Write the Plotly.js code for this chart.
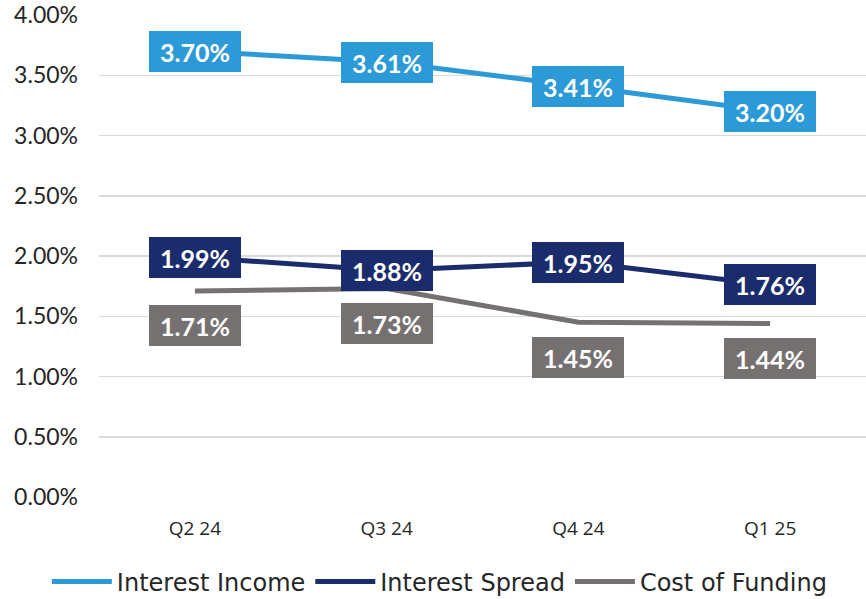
<!DOCTYPE html>
<html>
<head>
<meta charset="utf-8">
<script src="https://cdn.plot.ly/plotly-3.0.1.min.js"></script>
<style>
  html, body { margin: 0; padding: 0; background: #fff; }
  #chart { width: 866px; height: 599px; }
</style>
</head>
<body>
<div id="chart"></div>
<script>
// quarters and rates (in %)
const quarters = ["Q2 24", "Q3 24", "Q4 24", "Q1 25"];
const interestIncome = [3.70, 3.61, 3.41, 3.20];
const interestSpread = [1.99, 1.88, 1.95, 1.76];
const costOfFunding = [1.71, 1.73, 1.45, 1.44];

const FONT = "Lato, 'DejaVu Sans', sans-serif";

const series = [
  { name: "Interest Income", y: interestIncome, color: "#2B9AD6", shift: 0 },
  { name: "Interest Spread", y: interestSpread, color: "#1B2C6C", shift: 0 },
  { name: "Cost of Funding", y: costOfFunding, color: "#767171", shift: -35 },
];

const traces = series.map((s) => ({
  x: quarters,
  y: s.y,
  name: s.name,
  type: "scatter",
  mode: "lines",
  line: { color: s.color, width: 5 },
  hoverinfo: "skip",
}));

// value boxes
const annotations = [];
series.forEach((s) => {
  s.y.forEach((v, i) => {
    annotations.push({
      x: quarters[i],
      y: v,
      xref: "x",
      yref: "y",
      text: "<b>" + v.toFixed(2) + "%</b>",
      showarrow: false,
      yshift: s.shift,
      bgcolor: s.color,
      borderwidth: 0,
      borderpad: 4,
      width: 84,
      height: 33,
      font: { family: FONT, size: 25, color: "#ffffff" },
    });
  });
});

const layout = {
  width: 866,
  height: 599,
  margin: { l: 99, r: 0, t: 15, b: 102, autoexpand: false },
  paper_bgcolor: "#ffffff",
  plot_bgcolor: "#ffffff",
  showlegend: true,
  legend: {
    orientation: "h",
    x: -0.068,
    xanchor: "left",
    y: -0.176,
    yanchor: "middle",
    font: { family: "'DejaVu Sans', sans-serif", size: 24, color: "#262626" },
    itemwidth: 60,
    traceorder: "normal",
  },
  xaxis: {
    type: "category",
    range: [-0.5, 3.5],
    showgrid: false,
    zeroline: false,
    showline: false,
    ticks: "",
    tickfont: { family: "'Open Sans', sans-serif", size: 19, color: "#262626" },
    ticklabelstandoff: 18,
  },
  yaxis: {
    range: [0, 4],
    dtick: 0.5,
    tickformat: ".2f",
    ticksuffix: "%",
    showgrid: true,
    gridcolor: "#d9d9d9",
    gridwidth: 1.5,
    zeroline: false,
    showline: false,
    ticks: "",
    ticklabelstandoff: 20,
    tickfont: { family: FONT, size: 23, color: "#262626" },
  },
  annotations: annotations,
};

Plotly.newPlot("chart", traces, layout, { displayModeBar: false, staticPlot: true });
</script>
</body>
</html>
